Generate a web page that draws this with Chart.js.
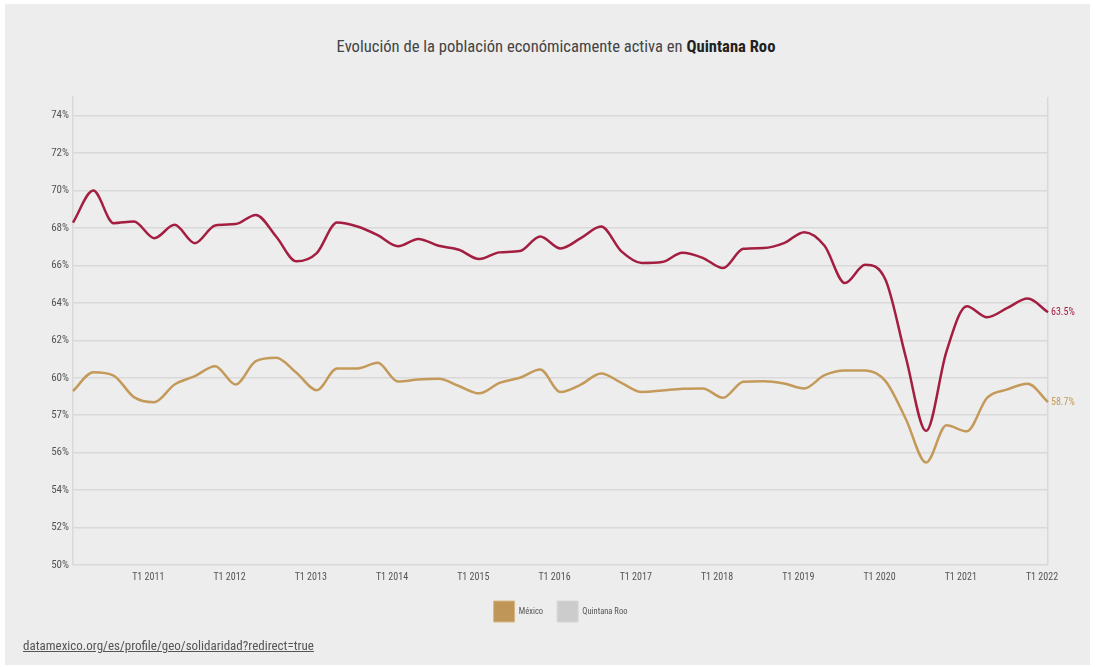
<!DOCTYPE html>
<html lang="es">
<head>
<meta charset="utf-8">
<title>Población económicamente activa – Quintana Roo</title>
<script src="https://cdn.jsdelivr.net/npm/chart.js@4.4.1/dist/chart.umd.min.js"></script>
<style>
  html, body { margin: 0; padding: 0; background: #ffffff; }
  body { width: 1095px; height: 667px; position: relative; overflow: hidden;
         font-family: "Liberation Sans Narrow", "Roboto Condensed", Roboto, sans-serif; }
  #card { position: absolute; left: 5px; top: 4px; width: 1085px; height: 661px; background: #ededed; }
  #title { position: absolute; left: 0; width: 1112px; top: 37px; text-align: center;
           font-size: 16.6px; color: #444; white-space: nowrap; }
  #title b { color: #222; }
  #source { position: absolute; left: 23px; top: 638px; font-size: 13px; color: #555;
            text-decoration: underline; white-space: nowrap; }
  #chart { position: absolute; left: 0; top: 0; }
</style>
</head>
<body>
<div id="card"></div>
<div id="title">Evolución de la población económicamente activa en <b>Quintana Roo</b></div>
<canvas id="chart" width="1095" height="667"></canvas>
<div id="source">datamexico.org/es/profile/geo/solidaridad?redirect=true</div>

<script>
// Quarters T1 2010 … T1 2022
const quarters = [];
for (let y = 2010; y <= 2022; y++) {
  for (let q = 1; q <= 4; q++) {
    if (y === 2022 && q > 1) break;
    quarters.push('T' + q + ' ' + y);
  }
}

// Tasa de participación económica (%)
const mexico = [
  59.29, 60.30, 60.12, 58.97, 58.70, 59.64, 60.09, 60.62, 59.64, 60.89,
  61.07, 60.27, 59.34, 60.50, 60.50, 60.80, 59.80, 59.91, 59.95, 59.56,
  59.17, 59.73, 60.00, 60.44, 59.24, 59.64, 60.23, 59.73, 59.24, 59.32,
  59.41, 59.43, 58.93, 59.79, 59.82, 59.70, 59.43, 60.14, 60.39, 60.39,
  59.82, 57.80, 55.47, 57.46, 57.14, 58.93, 59.38, 59.68, 58.70
];
const quintanaRoo = [
  68.29, 70.00, 68.26, 68.35, 67.46, 68.17, 67.19, 68.14, 68.21, 68.70,
  67.55, 66.22, 66.66, 68.29, 68.08, 67.62, 67.03, 67.42, 67.05, 66.84,
  66.34, 66.70, 66.77, 67.55, 66.91, 67.46, 68.08, 66.75, 66.13, 66.18,
  66.68, 66.41, 65.86, 66.89, 66.93, 67.19, 67.78, 67.05, 65.06, 66.04,
  65.24, 61.10, 57.16, 61.40, 63.82, 63.23, 63.73, 64.23, 63.50
];

// Y axis ticks and the text printed next to each one
const yTickValues = [50, 52, 54, 56, 58, 60, 62, 64, 66, 68, 70, 72, 74];
const yTickLabels = ['50%', '52%', '54%', '56%', '57%', '60%', '62%', '64%', '66%', '68%', '70%', '72%', '74%'];

const legendNames = ['México', 'Quintana Roo'];

const COLOR_MX = 'rgb(196,154,90)';
const COLOR_QR = 'rgb(163,30,65)';
const FONT = '"Liberation Sans Narrow", "Roboto Condensed", Roboto, sans-serif';
const GRID = '#d9d9d9';

// Value tag next to the last point of each line
const endLabels = {
  id: 'endLabels',
  afterDatasetsDraw(chart) {
    const ctx = chart.ctx;
    ctx.save();
    ctx.font = '10px ' + FONT;
    ctx.textAlign = 'left';
    ctx.textBaseline = 'middle';
    chart.data.datasets.forEach((ds, i) => {
      const meta = chart.getDatasetMeta(i);
      const last = meta.data[meta.data.length - 1];
      const v = ds.data[ds.data.length - 1];
      ctx.fillStyle = ds.borderColor;
      ctx.fillText(v.toFixed(1) + '%', last.x + 3, last.y);
    });
    ctx.restore();
  }
};

new Chart(document.getElementById('chart'), {
  type: 'line',
  data: {
    labels: quarters,
    datasets: [
      { label: legendNames[0], data: mexico, borderColor: COLOR_MX, backgroundColor: COLOR_MX,
        borderWidth: 2.5, pointRadius: 0, cubicInterpolationMode: 'monotone' },
      { label: legendNames[1], data: quintanaRoo, borderColor: COLOR_QR, backgroundColor: COLOR_QR,
        borderWidth: 2.5, pointRadius: 0, cubicInterpolationMode: 'monotone' }
    ]
  },
  options: {
    responsive: false,
    animation: false,
    layout: { padding: { top: 97, right: 47, left: 20, bottom: 35 } },
    plugins: {
      tooltip: { enabled: false },
      title: { display: false },
      legend: {
        position: 'bottom',
        fullSize: false,
        labels: {
          boxWidth: 21,
          boxHeight: 21,
          padding: 14,
          color: '#555',
          font: { family: FONT, size: 8.5 },
          generateLabels() {
            return [
              { text: legendNames[0], fillStyle: 'rgb(192,150,88)', strokeStyle: 'rgb(215,185,135)', lineWidth: 1, fontColor: '#555', datasetIndex: 0 },
              { text: legendNames[1], fillStyle: '#cccccc', strokeStyle: '#d6d6d6', lineWidth: 1, fontColor: '#555', datasetIndex: 1 }
            ];
          }
        }
      }
    },
    scales: {
      x: {
        offset: false,
        afterFit(s) { s.height = 22; },
        border: { display: false },
        grid: {
          drawTicks: false,
          lineWidth: 1.5,
          color: (c) => (c.index === quarters.length - 1 ? GRID : 'rgba(0,0,0,0)')
        },
        ticks: {
          autoSkip: false,
          maxRotation: 0,
          padding: 6,
          labelOffset: -6,
          color: '#555',
          font: { family: FONT, size: 10 },
          callback(value, index) {
            const l = quarters[index];
            return (index > 0 && l.startsWith('T1 ')) ? l : '';
          }
        }
      },
      y: {
        min: 50,
        max: 75,
        afterFit(s) { s.width = 53; },
        afterBuildTicks(s) { s.ticks = yTickValues.map(v => ({ value: v })); },
        border: { display: true, color: GRID, width: 1.5 },
        grid: { drawTicks: false, color: GRID, lineWidth: 1.5 },
        ticks: {
          padding: 4,
          color: '#555',
          font: { family: FONT, size: 11 },
          callback(value) {
            const i = yTickValues.indexOf(value);
            return i >= 0 ? yTickLabels[i] : '';
          }
        }
      }
    }
  },
  plugins: [endLabels]
});
</script>
</body>
</html>
